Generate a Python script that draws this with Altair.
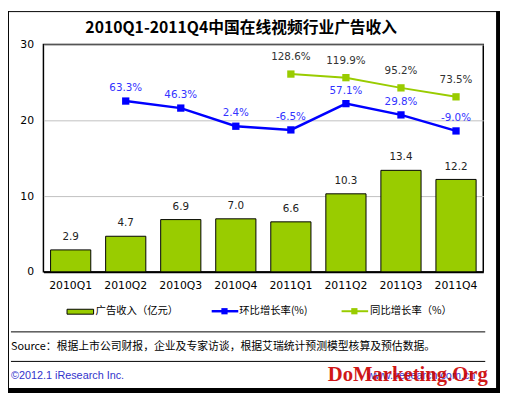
import altair as alt
import pandas as pd

quarters = ["2010Q1", "2010Q2", "2010Q3", "2010Q4", "2011Q1", "2011Q2", "2011Q3", "2011Q4"]
revenue = [2.9, 4.7, 6.9, 7.0, 6.6, 10.3, 13.4, 12.2]
qoq = [None, 63.3, 46.3, 2.4, -6.5, 57.1, 29.8, -9.0]
yoy = [None, None, None, None, 128.6, 119.9, 95.2, 73.5]

title_text = "2010Q1-2011Q4中国在线视频行业广告收入"
legend_labels = ["广告收入（亿元）", "环比增长率(%)", "同比增长率（%）"]
source_text = "Source：根据上市公司财报，企业及专家访谈，根据艾瑞统计预测模型核算及预估数据。"
copyright_text = "©2012.1 iResearch Inc."
site_text = "www.iresearch.com.cn"
watermark_text = "DoMarketing.Org"

GREEN = "#99CC00"
BLUE = "#0000FF"
NUMFONT = "DejaVu Sans"
CJK = "Noto Sans CJK SC"

bars_df = pd.DataFrame({"q": quarters, "v": revenue})
bars_df["lab"] = [f"{v:.1f}" for v in revenue]
qoq_df = pd.DataFrame({"q": quarters, "r": qoq}).dropna()
qoq_df["lab"] = [f"{v:.1f}%" for v in qoq_df["r"]]
yoy_df = pd.DataFrame({"q": quarters, "r": yoy}).dropna()
yoy_df["lab"] = [f"{v:.1f}%" for v in yoy_df["r"]]

xenc = alt.X("q:N", sort=quarters, title=None,
             scale=alt.Scale(paddingInner=0.27, paddingOuter=0.13),
             axis=alt.Axis(labelAngle=0, ticks=False, domainColor="black", domainWidth=2,
                           labelPadding=8, labelFont=NUMFONT, labelFontSize=11, labelColor="black"))
yenc = alt.Y("v:Q", title=None, scale=alt.Scale(domain=[0, 30]),
             axis=alt.Axis(values=[0, 10, 20, 30], grid=True, gridColor="#C0C0C0", domain=False,
                           ticks=False, labelPadding=10, labelFont=NUMFONT, labelFontSize=11,
                           labelColor="black"))

bars = alt.Chart(bars_df).mark_bar(color=GREEN, stroke="black", strokeWidth=1).encode(x=xenc, y=yenc)
bar_labels = alt.Chart(bars_df).mark_text(dy=-13, font=NUMFONT, fontSize=10.5, color="#222222").encode(
    x=alt.X("q:N", sort=quarters), y=alt.Y("v:Q"), text="lab:N")
bar_layer = alt.layer(bars, bar_labels)

yr = alt.Y("r:Q", scale=alt.Scale(domain=[-350, 200]), axis=None)
xq = alt.X("q:N", sort=quarters)
qoq_line = alt.Chart(qoq_df).mark_line(color=BLUE, strokeWidth=2.5).encode(x=xq, y=yr)
qoq_pts = alt.Chart(qoq_df).mark_point(shape="square", filled=True, color=BLUE, size=55, opacity=1).encode(x=xq, y=yr)
qoq_lab = alt.Chart(qoq_df).mark_text(dy=-13, font=NUMFONT, fontSize=10.5, color="#3333FF").encode(x=xq, y=yr, text="lab:N")
yoy_line = alt.Chart(yoy_df).mark_line(color=GREEN, strokeWidth=2).encode(x=xq, y=yr)
yoy_pts = alt.Chart(yoy_df).mark_point(shape="square", filled=True, color=GREEN, size=55, opacity=1).encode(x=xq, y=yr)
yoy_lab = alt.Chart(yoy_df).mark_text(dy=-17, font=NUMFONT, fontSize=10.5, color="#333333").encode(x=xq, y=yr, text="lab:N")
line_layer = alt.layer(qoq_line, qoq_pts, qoq_lab, yoy_line, yoy_pts, yoy_lab)

one = alt.Data(values=[{"k": 1}])


def txt(s, x, y, **kw):
    return alt.Chart(one).mark_text(text=s, **kw).encode(x=alt.value(x), y=alt.value(y))


def rule(x1, x2, y1, y2, **kw):
    return alt.Chart(one).mark_rule(**kw).encode(x=alt.value(x1), x2=alt.value(x2), y=alt.value(y1), y2=alt.value(y2))


def rect(x1, x2, y1, y2, **kw):
    return alt.Chart(one).mark_rect(**kw).encode(x=alt.value(x1), x2=alt.value(x2), y=alt.value(y1), y2=alt.value(y2))


deco = [
    txt(title_text, 201, -17, font=CJK, fontSize=16, fontWeight="bold", align="center", baseline="middle", color="black"),
    rect(24, 51, 269, 274, fill=GREEN, stroke="black", strokeWidth=1),
    txt(legend_labels[0], 53, 271, font=CJK, fontSize=10.5, align="left", baseline="middle", color="black"),
    rule(171, 198, 271, 271, color=BLUE, strokeWidth=2.5),
    alt.Chart(one).mark_point(shape="square", filled=True, color=BLUE, size=40, opacity=1).encode(x=alt.value(184), y=alt.value(271)),
    txt(legend_labels[1], 199, 271, font=CJK, fontSize=10.5, align="left", baseline="middle", color="black"),
    rule(303, 330, 271, 271, color=GREEN, strokeWidth=2),
    alt.Chart(one).mark_point(shape="square", filled=True, color=GREEN, size=40, opacity=1).encode(x=alt.value(316), y=alt.value(271)),
    txt(legend_labels[2], 332, 271, font=CJK, fontSize=10.5, align="left", baseline="middle", color="black"),
    rule(-33, 449, 292, 292, color="black", strokeWidth=1),
    txt(source_text, -33, 307, font=CJK, fontSize=11, align="left", baseline="middle", color="black"),
    rule(-33, 449, 322, 322, color="black", strokeWidth=1),
    txt(copyright_text, -33, 337, font="Liberation Sans", fontSize=11, align="left", baseline="middle", color="#3333CC"),
    txt(site_text, 329, 337, font="Liberation Sans", fontSize=11, align="left", baseline="middle", color="#3333CC"),
    txt(watermark_text, 289, 336, font="Liberation Serif", fontSize=21, fontWeight="bold", align="left", baseline="middle", color="#CC0000", opacity=0.9),
    rule(-35.5, -35.5, -34, 354, color="black", strokeWidth=1),
    rule(-36, 464, -33.5, -33.5, color="black", strokeWidth=1),
    rect(460, 464, -34, 354, fill="black"),
    rect(-36, 464, 349, 354, fill="black"),
]

chart = alt.layer(bar_layer, line_layer, *deco).resolve_scale(y="independent").properties(
    width=447, height=231,
    autosize=alt.AutoSizeParams(type="none"),
    padding={"left": 36, "top": 34, "right": 17, "bottom": 123},
).configure_view(stroke="black", strokeWidth=1.5)

chart.save("out.html", embed_options={"renderer": "svg", "actions": False})
